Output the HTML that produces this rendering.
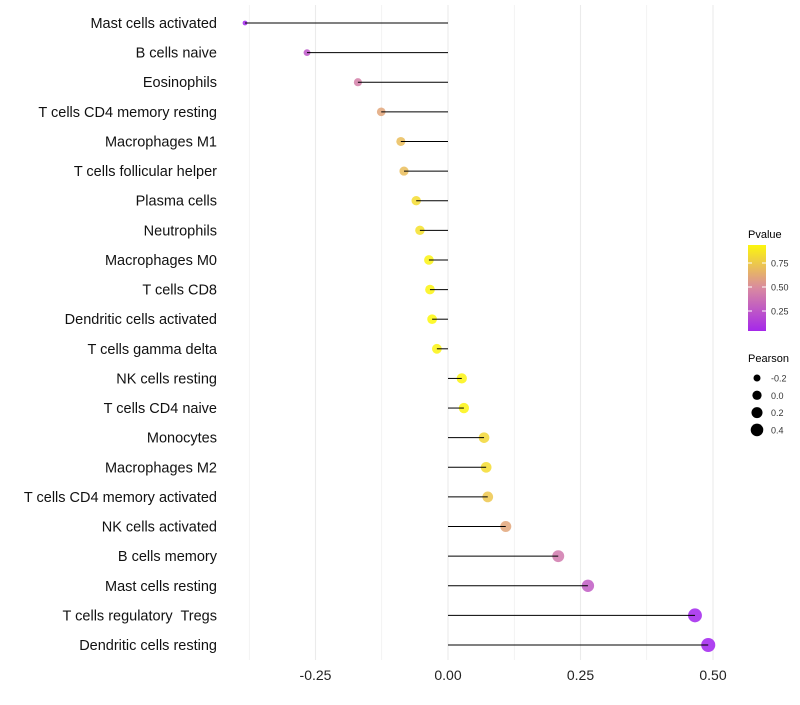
<!DOCTYPE html>
<html><head><meta charset="utf-8"><style>body{margin:0;background:#fff}svg{font-family:"Liberation Sans",sans-serif}text{white-space:pre}</style></head>
<body>
<svg id="c" width="800" height="700"></svg>
<script>
const categories=["Mast cells activated","B cells naive","Eosinophils","T cells CD4 memory resting","Macrophages M1","T cells follicular helper","Plasma cells","Neutrophils","Macrophages M0","T cells CD8","Dendritic cells activated","T cells gamma delta","NK cells resting","T cells CD4 naive","Monocytes","Macrophages M2","T cells CD4 memory activated","NK cells activated","B cells memory","Mast cells resting","T cells regulatory  Tregs","Dendritic cells resting"];
const pearson=[-0.383,-0.266,-0.170,-0.126,-0.089,-0.083,-0.060,-0.053,-0.036,-0.034,-0.030,-0.021,0.026,0.030,0.068,0.072,0.075,0.109,0.208,0.264,0.466,0.491];
const pvalue=[0.02,0.25,0.45,0.62,0.72,0.72,0.85,0.87,0.95,0.95,0.97,0.95,0.95,0.95,0.83,0.85,0.76,0.62,0.42,0.28,0.02,0.01];
const xTicks=[-0.25,0,0.25,0.5];
const xTickLabels=["-0.25","0.00","0.25","0.50"];
const colorTicks=[0.25,0.5,0.75];
const sizeTicks=[-0.2,0,0.2,0.4];
const NS="http://www.w3.org/2000/svg",svg=document.getElementById("c");
function el(t,a,p){const e=document.createElementNS(NS,t);for(const k in a)e.setAttribute(k,a[k]);(p||svg).appendChild(e);return e;}
const x=v=>448+v*530, y=i=>23+i*(622/21);
const r=v=>Math.sqrt(Math.max(2,25+50*v));
const rl=v=>Math.sqrt(21.4+45.7*v);
function col(p){const s=[[0,[160,32,240]],[0.5,[217,138,160]],[1,[255,255,0]]];let a=p<=0.5?s[0]:s[1],b=p<=0.5?s[1]:s[2];const t=(p-a[0])/(b[0]-a[0]);return "rgb("+a[1].map((c,k)=>Math.round(c+(b[1][k]-c)*t)).join(",")+")";}
const g=el("g",{});
[-0.375,-0.25,-0.125,0,0.125,0.25,0.375,0.5].forEach(v=>{el("line",{x1:x(v),x2:x(v),y1:5,y2:660,stroke:"#ebebeb","stroke-width":Number.isInteger(v*4)?1.1:0.6},g);});
xTicks.forEach((v,i)=>{const t=el("text",{x:x(v),y:680,"text-anchor":"middle","font-size":14,fill:"#222"});t.textContent=xTickLabels[i];
});
categories.forEach((c,i)=>{
const t=el("text",{x:217,y:y(i)+5,"text-anchor":"end","font-size":14.5,fill:"#111"});t.textContent=c;

const d=el("circle",{cx:x(pearson[i]),cy:y(i),r:r(pearson[i]),fill:col(pvalue[i]),"fill-opacity":0.85});

const l=el("line",{x1:x(0),x2:x(pearson[i]),y1:y(i),y2:y(i),stroke:"#000","stroke-width":1});

});
const lg=el("g",{});
let t=el("text",{x:748,y:238,"font-size":11},lg);t.textContent="Pvalue";
const defs=el("defs",{});const gr=el("linearGradient",{id:"gr",x1:0,y1:1,x2:0,y2:0},defs);
[0,0.25,0.5,0.75,1].forEach(o=>el("stop",{offset:o,"stop-color":col(0.04+o*0.92)},gr));
el("rect",{x:748,y:245,width:18,height:86,fill:"url(#gr)"},lg);
const cy=p=>335-p*96;
colorTicks.forEach(p=>{el("line",{x1:748,x2:752,y1:cy(p),y2:cy(p),stroke:"#fff"},lg);el("line",{x1:762,x2:766,y1:cy(p),y2:cy(p),stroke:"#fff"},lg);
const tt=el("text",{x:771,y:cy(p)+3.5,"font-size":9,fill:"#333"},lg);tt.textContent=p.toFixed(2);});
t=el("text",{x:748,y:362,"font-size":11},lg);t.textContent="Pearson";
sizeTicks.forEach((v,i)=>{const yy=378+i*17.3;el("circle",{cx:757,cy:yy,r:rl(v),fill:"#000"},lg);
const tt=el("text",{x:771,y:yy+3.5,"font-size":9,fill:"#333"},lg);tt.textContent=v.toFixed(1);});
</script>
</body></html>
